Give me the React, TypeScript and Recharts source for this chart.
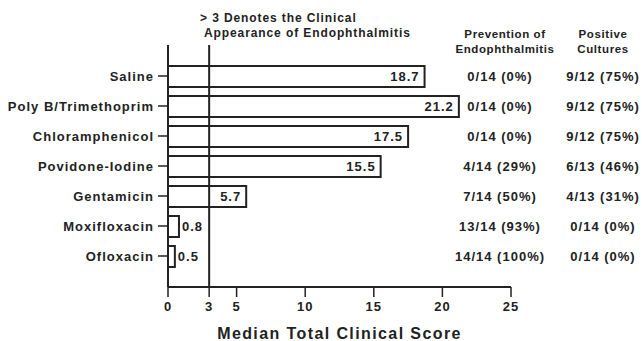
import React from 'react';
import { BarChart, Bar, XAxis, YAxis, ReferenceLine, LabelList, Label } from 'recharts';

const treatments = ['Saline', 'Poly B/Trimethoprim', 'Chloramphenicol', 'Povidone-Iodine', 'Gentamicin', 'Moxifloxacin', 'Ofloxacin'];
const scores = [18.7, 21.2, 17.5, 15.5, 5.7, 0.8, 0.5];
const prevention = ['0/14 (0%)', '0/14 (0%)', '0/14 (0%)', '4/14 (29%)', '7/14 (50%)', '13/14 (93%)', '14/14 (100%)'];
const cultures = ['9/12 (75%)', '9/12 (75%)', '9/12 (75%)', '6/13 (46%)', '4/13 (31%)', '0/14 (0%)', '0/14 (0%)'];
const xTicks = [0, 3, 5, 10, 15, 20, 25];

const data = treatments.map((name, i) => ({
  name,
  score: scores[i],
  prevention: prevention[i],
  cultures: cultures[i],
}));

const ink = '#222';
const font = 'Liberation Sans, Arial, sans-serif';
const textStyle = { fontFamily: font, fontWeight: 700, fontSize: 13, fill: ink, letterSpacing: 1 };

const ValueLabel = (props: any) => {
  const { x, y, width, height, value } = props;
  const cy = y + height / 2;
  const inside = value > 3;
  return (
    <text
      x={inside ? x + width - 5 : x + width + 3}
      y={cy}
      dy={4.5}
      textAnchor={inside ? 'end' : 'start'}
      style={textStyle}
    >
      {value}
    </text>
  );
};

const columnLabel = (cx: number) => (props: any) => {
  const { y, height, value } = props;
  return (
    <text x={cx} y={y + height / 2} dy={4.5} textAnchor="middle" style={textStyle}>
      {value}
    </text>
  );
};

const header = (text: string, left: number, top: number, center = false) => (
  <div
    style={{
      position: 'absolute',
      left: center ? left - 80 : left,
      width: center ? 160 : undefined,
      textAlign: center ? 'center' : 'left',
      top: top - 8,
      fontFamily: font,
      fontWeight: 700,
      fontSize: center ? 11.5 : 12,
      letterSpacing: center ? 0.6 : 0.9,
      color: ink,
      whiteSpace: 'nowrap',
      lineHeight: '16px',
    }}
  >
    {text}
  </div>
);

export default function App() {
  return (
    <div style={{ position: 'relative', width: 642, height: 341, background: '#fff' }}>
      <style>{'body{margin:0}'}</style>
      {header('> 3 Denotes the Clinical', 200, 18)}
      {header('Appearance of Endophthalmitis', 204, 33)}
      {header('Prevention of', 505, 34, true)}
      {header('Endophthalmitis', 505, 49, true)}
      {header('Positive', 603, 34, true)}
      {header('Cultures', 603, 49, true)}
      <BarChart
        width={642}
        height={341}
        data={data}
        layout="vertical"
        margin={{ top: 45, right: 131, bottom: 0, left: 0 }}
        barCategoryGap={9}
      >
        <XAxis
          type="number"
          domain={[0, 25]}
          ticks={xTicks}
          interval={0}
          height={54}
          tickSize={10}
          tickMargin={5}
          axisLine={{ stroke: ink, strokeWidth: 2 }}
          tickLine={{ stroke: ink, strokeWidth: 1.5 }}
          tick={textStyle}
        >
          <Label
            value="Median Total Clinical Score"
            position="insideBottom"
            offset={2}
            style={{ ...textStyle, fontSize: 16, letterSpacing: 1.4 }}
          />
        </XAxis>
        <YAxis
          type="category"
          dataKey="name"
          width={168}
          tickSize={10}
          tickMargin={4}
          interval={0}
          padding={{ top: 16, bottom: 16 }}
          axisLine={{ stroke: ink, strokeWidth: 2 }}
          tickLine={{ stroke: ink, strokeWidth: 1.5 }}
          tick={textStyle}
        />
        <ReferenceLine x={3} stroke={ink} strokeWidth={2} />
        <Bar dataKey="score" fill="#fff" stroke={ink} strokeWidth={2} barSize={21} isAnimationActive={false}>
          <LabelList dataKey="score" content={ValueLabel} />
          <LabelList dataKey="prevention" content={columnLabel(500)} />
          <LabelList dataKey="cultures" content={columnLabel(603)} />
        </Bar>
      </BarChart>
    </div>
  );
}
